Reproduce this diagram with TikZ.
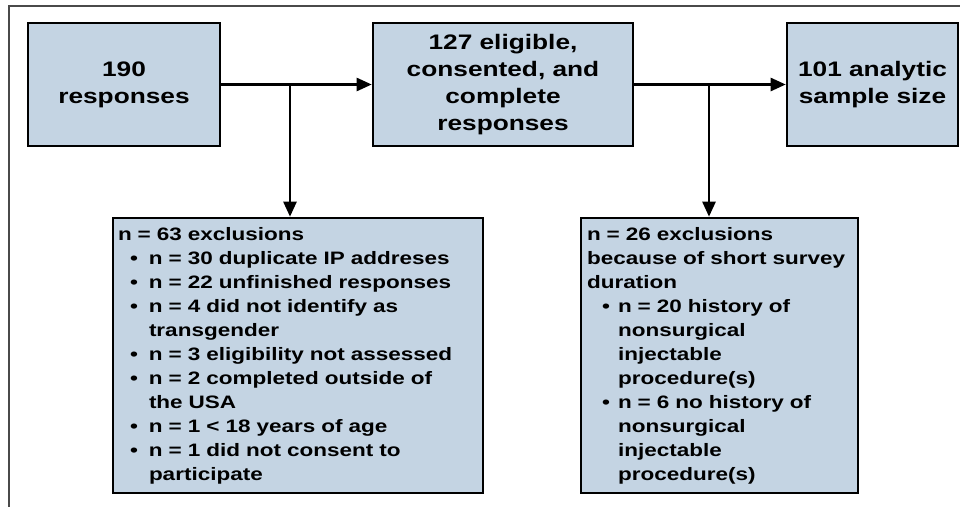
\documentclass[tikz,border=0pt]{standalone}
\usepackage{fontspec}
\setmainfont{Liberation Sans}[FakeStretch=1.25]
\usetikzlibrary{arrows.meta}
\definecolor{boxfill}{HTML}{C4D4E3}
\definecolor{framegray}{HTML}{4A4A4A}
\newcommand\bulD{\hspace*{12pt}\makebox[19pt][l]{•}}
\newcommand\contD{\hspace*{31pt}}
\newcommand\bulE{\hspace*{15pt}\makebox[16pt][l]{•}}
\newcommand\contE{\hspace*{31pt}}
\begin{document}
\begin{tikzpicture}[x=1pt,y=-1pt,
  box/.style={draw=black, line width=2.6pt, fill=boxfill, inner sep=0pt},
  conn/.style={line width=2.5pt, -{Triangle[length=15pt,width=13pt]}},
  bigtxt/.style={font=\fontsize{21}{27}\selectfont\bfseries, align=center},
  smalltxt/.style={font=\fontsize{18}{24}\selectfont\bfseries, align=left}]
\useasboundingbox (0,0) rectangle (960,506);
\draw[framegray, line width=1.2pt] (9,512) -- (9,6) -- (966,6);

\node[box, bigtxt, minimum width=192pt, minimum height=123pt] (A) at (124,84.5) {190\\responses};
\node[box, bigtxt, minimum width=260pt, minimum height=123pt] (B) at (503,84.5) {127 eligible,\\consented, and\\complete\\responses};
\node[box, bigtxt, minimum width=171pt, minimum height=123pt] (C) at (872.5,84.5) {101 analytic\\sample size};

\node[box, smalltxt, inner sep=5pt, text width=360pt, minimum height=275pt] (D) at (298,355.5) {%
n = 63 exclusions\\
\bulD n = 30 duplicate IP addreses\\
\bulD n = 22 unfinished responses\\
\bulD n = 4 did not identify as\\
\contD transgender\\
\bulD n = 3 eligibility not assessed\\
\bulD n = 2 completed outside of\\
\contD the USA\\
\bulD n = 1 < 18 years of age\\
\bulD n = 1 did not consent to\\
\contD participate};

\node[box, smalltxt, inner sep=6pt, text width=265pt, minimum height=275pt] (E) at (719.5,355.5) {%
n = 26 exclusions\\
because of short survey\\
duration\\
\bulE n = 20 history of\\
\contE nonsurgical\\
\contE injectable\\
\contE procedure(s)\\
\bulE n = 6 no history of\\
\contE nonsurgical\\
\contE injectable\\
\contE procedure(s)};

\coordinate (j1) at (290,84.5);
\coordinate (j2) at (709,84.5);
\draw[conn] (A.east) -- (B.west);
\draw[conn] (B.east) -- (C.west);
\draw[conn] (j1) -- (j1 |- D.north);
\draw[conn] (j2) -- (j2 |- E.north);
\end{tikzpicture}
\end{document}
